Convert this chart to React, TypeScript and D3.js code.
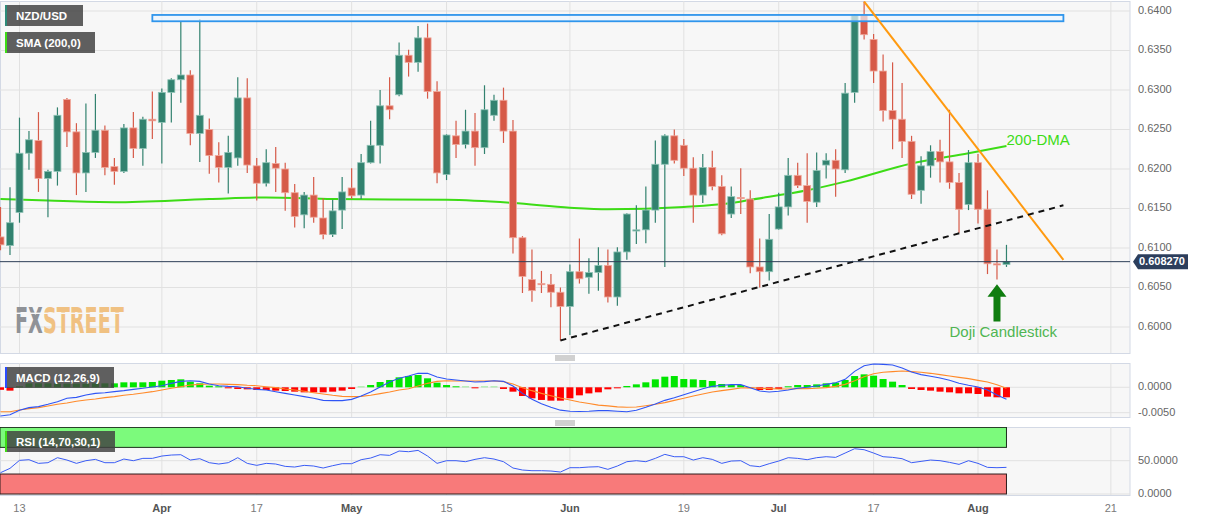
import { useLayoutEffect, useRef, useState } from 'react'
import * as d3 from 'd3'

// NZD/USD daily candles, one value per trading day starting 9 Mar 2023.
const START = '2023-03-09'

const OPEN = [
  0.6114, 0.6103, 0.6145, 0.622, 0.6236, 0.6188, 0.6197, 0.6288, 0.6247, 0.6195,
  0.6221, 0.6249, 0.6203, 0.6197, 0.6252, 0.6226, 0.6263, 0.6259, 0.6297, 0.6313,
  0.6319, 0.6245, 0.625, 0.6217, 0.6202, 0.6214, 0.629, 0.6204, 0.6182, 0.6207,
  0.62, 0.617, 0.6142, 0.6167, 0.6138, 0.6117, 0.6148, 0.6176, 0.6167, 0.6208,
  0.623, 0.628, 0.6294, 0.6344, 0.6335, 0.6366, 0.6298, 0.6193, 0.6242, 0.6231,
  0.6248, 0.6227, 0.6268, 0.6287, 0.6248, 0.6113, 0.606, 0.6055, 0.6054, 0.6044,
  0.6026, 0.607, 0.6063, 0.6069, 0.6078, 0.6038, 0.6095, 0.6122, 0.6123, 0.6148,
  0.6206, 0.6242, 0.623, 0.6201, 0.6167, 0.6202, 0.6178, 0.6143, 0.6164, 0.6162,
  0.6076, 0.607, 0.6124, 0.6152, 0.6192, 0.6179, 0.6158, 0.6205, 0.6211, 0.6199,
  0.6297, 0.6395, 0.6364, 0.6324, 0.6274, 0.6263, 0.6235, 0.6173, 0.6204, 0.6222,
  0.6209, 0.6183, 0.6155, 0.6208, 0.6149, 0.608, 0.6079,
]
const HIGH = [
  0.6152, 0.6177, 0.6265, 0.6248, 0.6272, 0.6199, 0.6278, 0.629, 0.6258, 0.6283,
  0.6295, 0.6255, 0.6214, 0.6257, 0.6272, 0.6266, 0.6298, 0.6302, 0.6315, 0.6387,
  0.6325, 0.639, 0.6264, 0.6234, 0.6242, 0.6316, 0.6315, 0.6214, 0.6225, 0.6228,
  0.6208, 0.6181, 0.6171, 0.619, 0.6163, 0.6161, 0.619, 0.6201, 0.6219, 0.6261,
  0.63, 0.6316, 0.636, 0.6351, 0.6381, 0.6384, 0.6311, 0.6244, 0.6261, 0.6275,
  0.6271, 0.6306, 0.6294, 0.6303, 0.6262, 0.6115, 0.6098, 0.6071, 0.6067, 0.605,
  0.6079, 0.6112, 0.6087, 0.6101, 0.6098, 0.6101, 0.6144, 0.6154, 0.6178, 0.6236,
  0.6244, 0.625, 0.6238, 0.6215, 0.6219, 0.6223, 0.6192, 0.6178, 0.6201, 0.6173,
  0.6112, 0.6143, 0.617, 0.6214, 0.6208, 0.622, 0.6221, 0.622, 0.6225, 0.6309,
  0.6396, 0.6412, 0.6371, 0.6345, 0.6335, 0.6309, 0.6242, 0.6216, 0.623, 0.6237,
  0.6275, 0.6195, 0.6224, 0.6219, 0.6173, 0.6098, 0.6104,
]
const LOW = [
  0.6097, 0.6091, 0.6132, 0.6199, 0.6171, 0.6139, 0.6179, 0.6228, 0.6167, 0.6171,
  0.6214, 0.6192, 0.618, 0.6195, 0.6214, 0.6204, 0.6238, 0.6207, 0.6259, 0.6284,
  0.623, 0.6209, 0.6194, 0.6183, 0.6169, 0.6204, 0.6195, 0.616, 0.6178, 0.6171,
  0.6147, 0.6126, 0.6125, 0.6132, 0.6111, 0.6114, 0.6124, 0.6162, 0.6162, 0.6207,
  0.6207, 0.6263, 0.6292, 0.6317, 0.6323, 0.6289, 0.6182, 0.6186, 0.6214, 0.6226,
  0.6204, 0.6219, 0.6261, 0.6233, 0.6093, 0.6043, 0.6032, 0.6043, 0.6025, 0.5983,
  0.599, 0.6055, 0.6042, 0.6046, 0.6031, 0.6027, 0.6085, 0.6105, 0.6106, 0.6132,
  0.6076, 0.6207, 0.6191, 0.6132, 0.6157, 0.6173, 0.6116, 0.6138, 0.6143, 0.6068,
  0.605, 0.6059, 0.6123, 0.6141, 0.6176, 0.6132, 0.6152, 0.6188, 0.6165, 0.6195,
  0.6284, 0.6364, 0.6309, 0.626, 0.6225, 0.6214, 0.6162, 0.6156, 0.6189, 0.6183,
  0.6175, 0.6119, 0.6148, 0.6131, 0.6067, 0.606, 0.6076,
]
const CLOSE = [
  0.6104, 0.6132, 0.622, 0.6237, 0.6188, 0.6197, 0.6268, 0.6247, 0.6195, 0.6221,
  0.6249, 0.6202, 0.6197, 0.6252, 0.6226, 0.6263, 0.6261, 0.6297, 0.6313, 0.6319,
  0.6245, 0.6268, 0.6217, 0.6202, 0.6221, 0.629, 0.6205, 0.6182, 0.6208, 0.6201,
  0.617, 0.614, 0.6167, 0.6139, 0.6117, 0.6147, 0.6171, 0.6166, 0.6208, 0.623,
  0.628, 0.6275, 0.6344, 0.6335, 0.6366, 0.6298, 0.6195, 0.6243, 0.6231, 0.6248,
  0.6227, 0.6275, 0.6287, 0.6248, 0.6113, 0.6064, 0.6046, 0.6054, 0.6044, 0.6026,
  0.607, 0.6061, 0.6069, 0.6078, 0.6038, 0.6095, 0.6143, 0.6123, 0.6148, 0.6206,
  0.6242, 0.6211, 0.6201, 0.6167, 0.6202, 0.6178, 0.6118, 0.6165, 0.6163, 0.6076,
  0.607, 0.6111, 0.6152, 0.6192, 0.6179, 0.6159, 0.6198, 0.6211, 0.62, 0.6296,
  0.6395, 0.637, 0.6324, 0.6274, 0.6263, 0.6235, 0.6168, 0.6204, 0.6222, 0.6209,
  0.6183, 0.6149, 0.6208, 0.6149, 0.608, 0.6079, 0.6083,
]

// 200-day SMA, read at a few dates
const SMA_DATES = [
  '2023-03-09', '2023-03-16', '2023-03-27', '2023-04-10', '2023-04-18', '2023-04-27',
  '2023-05-15', '2023-05-24', '2023-06-01', '2023-06-07', '2023-06-19', '2023-06-26',
  '2023-06-28', '2023-07-06', '2023-07-12', '2023-07-21', '2023-07-31', '2023-08-04',
]
const SMA_VALUES = [
  0.6162, 0.616, 0.6158, 0.6162, 0.6164, 0.6162, 0.6161, 0.6157, 0.6151, 0.6149,
  0.6152, 0.6157, 0.6161, 0.6173, 0.6184, 0.6207, 0.622, 0.6229,
]

// MACD (12,26,9)
const MACD = [
  -0.00565, -0.00539, -0.00453, -0.004, -0.0038, -0.00335, -0.00283, -0.00217, -0.00198, -0.00152,
  -0.0012, -0.00106, -0.00086, -0.00066, -0.0004, -0.0002, 0.00006, 0.00032, 0.00078, 0.00117,
  0.0013, 0.00117, 0.00065, 0.00032, 0.00019, 0.00012, -0.0002, -0.0004, -0.00053, -0.00086,
  -0.0012, -0.00152, -0.00184, -0.00217, -0.00257, -0.00263, -0.00263, -0.00237, -0.00171, -0.00093,
  0.00006, 0.00104, 0.00177, 0.00222, 0.00275, 0.00275, 0.00203, 0.00163, 0.00144, 0.00124,
  0.00104, 0.00111, 0.0013, 0.00117, 0.00026, -0.0012, -0.00237, -0.00322, -0.00394, -0.0045,
  -0.0047, -0.00475, -0.0047, -0.0046, -0.0046, -0.0047, -0.0048, -0.00453, -0.00394, -0.00329,
  -0.00257, -0.00204, -0.00145, -0.00086, -0.00027, 0.00019, 0.00039, 0.00052, 0.00052, -0.00007,
  -0.00073, -0.00093, -0.00079, -0.00053, -0.0002, 0, 0.00026, 0.00058, 0.00091, 0.00157,
  0.00314, 0.00426, 0.00459, 0.00452, 0.00439, 0.0038, 0.00301, 0.00249, 0.00216, 0.00183,
  0.00137, 0.00078, 0.00039, 0.00006, -0.00053, -0.00152, -0.00237,
]
const SIGNAL = [
  -0.0048, -0.0048, -0.00447, -0.0042, -0.004, -0.00368, -0.00335, -0.00309, -0.00276, -0.0025,
  -0.0023, -0.00204, -0.00184, -0.00158, -0.00138, -0.00112, -0.00086, -0.00053, -0.0002, 0.00012,
  0.00045, 0.00058, 0.00065, 0.00065, 0.00058, 0.00052, 0.00039, 0.00032, 0.00012, -0.00007,
  -0.00033, -0.00053, -0.00079, -0.00106, -0.00132, -0.00158, -0.00178, -0.00184, -0.00178, -0.00158,
  -0.00125, -0.00093, -0.00053, -0.00027, 0.00026, 0.00078, 0.00117, 0.0013, 0.00124, 0.00124,
  0.00124, 0.00124, 0.00124, 0.00111, 0.00065, -0.00007, -0.00066, -0.00119, -0.00165, -0.0021,
  -0.0025, -0.0029, -0.0032, -0.0035, -0.00365, -0.00385, -0.00394, -0.00388, -0.00362, -0.00335,
  -0.00302, -0.00257, -0.00217, -0.00171, -0.00132, -0.00093, -0.00066, -0.0004, -0.00014, -0.00007,
  -0.0002, -0.00027, -0.00033, -0.00033, -0.00027, -0.00027, -0.0002, -0.00007, 0.00019, 0.00058,
  0.0013, 0.00209, 0.00268, 0.00295, 0.00308, 0.00321, 0.00308, 0.00295, 0.00275, 0.00249,
  0.00222, 0.00196, 0.0017, 0.00137, 0.00104, 0.00052, -0.0002,
]
const HIST = [
  -0.0005, -0.00066, 0.0001, 0.00078, 0.00078, 0.00078, 0.00072, 0.00072, 0.00072, 0.00072,
  0.00078, 0.00078, 0.00078, 0.00098, 0.00098, 0.00098, 0.00104, 0.0013, 0.00144, 0.00157,
  0.00111, 0.00078, 0.00032, 0.00012, -0.00014, -0.00033, -0.0004, -0.00053, -0.00053, -0.00066,
  -0.00073, -0.00086, -0.00099, -0.00099, -0.00099, -0.00086, -0.00066, -0.00033, 0.00005, 0.00045,
  0.00104, 0.00144, 0.00196, 0.00222, 0.00242, 0.00177, 0.00091, 0.00045, 0.00012, 0.00004,
  -0.0002, 0.00006, 0.00006, -0.00033, -0.00086, -0.00171, -0.00217, -0.00249, -0.00263, -0.00263,
  -0.00217, -0.00158, -0.0012, -0.00099, -0.0004, -0.0002, 0.00026, 0.00058, 0.00098, 0.00157,
  0.00209, 0.00222, 0.00163, 0.00157, 0.00144, 0.00124, 0.00065, 0.00045, 0.00045, -0.00005,
  -0.00053, -0.00053, -0.00033, 0.00012, 0.00045, 0.00045, 0.00058, 0.00078, 0.00091, 0.00144,
  0.00222, 0.00255, 0.00229, 0.00163, 0.00111, 0.00045, -0.00033, -0.00053, -0.00066, -0.00086,
  -0.00099, -0.00119, -0.00119, -0.00132, -0.00184, -0.00197, -0.00197,
]

// RSI (14)
const RSI = [
  32, 38.5, 50.5, 51.5, 46, 47, 54.5, 51, 46, 50,
  52, 47, 47, 52.5, 50, 53.5, 53.5, 57, 58.5, 59,
  51, 53, 47, 45, 47, 54.5, 46, 43, 46, 45,
  41.5, 40.5, 43, 42, 39, 42.5, 45.5, 45.5, 51.5, 54,
  59, 58, 64.5, 63.5, 65.5, 57, 46, 50, 50, 48.5,
  52, 54.5, 52.5, 48.5, 39, 36, 35, 35, 34.5, 33,
  39.5, 39.5, 40.5, 41, 37, 42, 48.5, 50, 48.5, 53.5,
  59.5, 56, 56, 51, 54.5, 52, 46, 49.5, 50, 42.5,
  41, 45.5, 49.5, 54.5, 53.5, 51.5, 54.5, 56, 55, 61.5,
  68, 66.5, 61.5, 56, 55, 53, 47, 49, 51, 50,
  47.5, 44.5, 50, 46, 40, 39.5, 40,
]

const PRICE_TICKS = [0.6, 0.605, 0.61, 0.615, 0.62, 0.625, 0.63, 0.635, 0.64]
const MACD_TICKS = [0, -0.005]
const RSI_TICKS = [50, 0]
const X_TICKS = [
  { date: '2023-03-13', label: '13', month: false },
  { date: '2023-04-03', label: 'Apr', month: true },
  { date: '2023-04-17', label: '17', month: false },
  { date: '2023-05-01', label: 'May', month: true },
  { date: '2023-05-15', label: '15', month: false },
  { date: '2023-06-01', label: 'Jun', month: true },
  { date: '2023-06-19', label: '19', month: false },
  { date: '2023-07-03', label: 'Jul', month: true },
  { date: '2023-07-17', label: '17', month: false },
  { date: '2023-08-01', label: 'Aug', month: true },
  { date: '2023-08-21', label: '21', month: false },
]
const LAST_PRICE = 0.60827

// drawn studies
const RESIST_BOX = { from: '2023-03-31', to: '2023-08-14', top: 0.6395, bottom: 0.6387 }
const FALLING_LINE = { from: '2023-07-14', p0: 0.6412, to: '2023-08-14', p1: 0.6085 }
const RISING_LINE = { from: '2023-05-31', p0: 0.5983, to: '2023-08-14', p1: 0.6154 }
const DOJI_ARROW = { date: '2023-08-03', tip: 0.6054, tail: 0.6007 }
const DOJI_TEXT = { date: '2023-07-27', price: 0.5987, text: 'Doji Candlestick' }
const DMA_TEXT = { date: '2023-08-04', price: 0.623, text: '200-DMA' }

const W = 1207
const H = 521
const PR = 1130
const MAIN = { top: 1, bottom: 353 }
const MP = { top: 363, bottom: 417 }
const RP = { top: 427, bottom: 495 }
const FONT = "'Liberation Sans', Arial, sans-serif"
const UP = '#32826f'
const DOWN = '#d65a48'

function Tag({ y, w, text, bar }: { y: number; w: number; text: string; bar: string }) {
  return (
    <g>
      <rect x={5} y={y} width={w} height={21} fill="rgba(66,66,66,0.84)" />
      <rect x={5} y={y} width={2} height={21} fill={bar} />
      <text x={16} y={y + 15} fill="#fff" fontSize={11.5} fontWeight={700} fontFamily={FONT}>
        {text}
      </text>
    </g>
  )
}

function Grip({ y }: { y: number }) {
  return (
    <g stroke="#8c8c8c" strokeWidth={0.8}>
      {[0, 2, 4].map((d) => (
        <line key={d} x1={555} x2={575} y1={y + d} y2={y + d} />
      ))}
    </g>
  )
}

// watermark, squeezed horizontally to the logo's width
function Watermark() {
  const ref = useRef<SVGTextElement>(null)
  const [sx, setSx] = useState(0.6)
  useLayoutEffect(() => {
    const w = ref.current?.getComputedTextLength()
    if (w) setSx(109 / w)
  }, [])
  return (
    <g>
      <g transform={`translate(15,333) scale(${sx},1)`}>
        <text
          ref={ref}
          x={0}
          y={0}
          fontFamily="'DejaVu Sans Condensed', 'Liberation Sans Narrow', sans-serif"
          fontWeight={700}
          fontSize={35}
        >
          <tspan fill="#8f9297">FX</tspan>
          <tspan fill="#f0c182">STREET</tspan>
        </text>
      </g>
      <rect x={14} y={312.6} width={112} height={1.4} fill="#f7f7f7" />
    </g>
  )
}

export default function App() {
  const parse = d3.timeParse('%Y-%m-%d')
  const fmt = d3.timeFormat('%Y-%m-%d')
  const days = d3
    .timeDay.range(parse(START)!, parse('2023-09-01')!)
    .filter((d) => d.getDay() !== 0 && d.getDay() !== 6)
  const pos = new Map(days.map((d, i) => [fmt(d), i]))
  const at = (s: string) => pos.get(s) as number

  const x = d3.scaleLinear().domain([0, 103]).range([0.5, 978])
  const y = d3.scaleLinear().domain([0.6, 0.64]).range([327, 11])
  const ym = d3.scaleLinear().domain([-0.005, 0]).range([412.7, 387.3])
  const yr = d3.scaleLinear().domain([0, 100]).range([494, 427.4])

  const smaLine = d3
    .line<[number, number]>()
    .x((d) => x(d[0]))
    .y((d) => y(d[1]))
    .curve(d3.curveMonotoneX)
  const smaPath = smaLine(SMA_DATES.map((s, i) => [at(s), SMA_VALUES[i]]))

  const macdLine = d3.line<number>().x((_, i) => x(i)).y((v) => ym(v))
  const rsiLine = d3.line<number>().x((_, i) => x(i)).y((v) => yr(v))

  const lastX = x(OPEN.length - 1)
  const bw = 7

  const ax = x(at(DOJI_ARROW.date))
  const aTip = y(DOJI_ARROW.tip)
  const aTail = y(DOJI_ARROW.tail)
  const arrow = `M${ax},${aTip} L${ax + 9.5},${aTip + 12.5} L${ax + 3.5},${aTip + 12.5} L${ax + 3.5},${aTail} L${ax - 3.5},${aTail} L${ax - 3.5},${aTip + 12.5} L${ax - 9.5},${aTip + 12.5} Z`

  const ly = y(LAST_PRICE)

  const vGrid = (top: number, bottom: number) =>
    X_TICKS.map((t) => (
      <line key={t.date} x1={x(at(t.date))} x2={x(at(t.date))} y1={top} y2={bottom} stroke="#e1e1e1" />
    ))

  return (
    <div style={{ position: 'absolute', left: 0, top: 0 }}>
      <svg width={W} height={H} viewBox={`0 0 ${W} ${H}`} style={{ display: 'block', background: '#fff' }}>
        <defs>
          <clipPath id="clipMain">
            <rect x={0} y={MAIN.top} width={PR} height={MAIN.bottom - MAIN.top} />
          </clipPath>
          <clipPath id="clipMacd">
            <rect x={0} y={MP.top} width={PR} height={MP.bottom - MP.top} />
          </clipPath>
          <clipPath id="clipRsi">
            <rect x={0} y={RP.top} width={PR} height={RP.bottom - RP.top} />
          </clipPath>
        </defs>

        {/* panels */}
        <rect x={0.5} y={MAIN.top + 0.5} width={PR - 0.5} height={MAIN.bottom - MAIN.top} fill="#f7f7f7" stroke="#d3d9e5" />
        <rect x={0.5} y={MP.top + 0.5} width={PR - 0.5} height={MP.bottom - MP.top} fill="#f7f7f7" stroke="#d3d9e5" />
        <rect x={0.5} y={RP.top + 0.5} width={PR - 0.5} height={RP.bottom - RP.top} fill="#f7f7f7" stroke="#d3d9e5" />

        {/* main panel */}
        <g clipPath="url(#clipMain)">
          {vGrid(MAIN.top, MAIN.bottom)}
          {PRICE_TICKS.map((p) => (
            <line key={p} x1={0} x2={PR} y1={y(p)} y2={y(p)} stroke="#e1e1e1" />
          ))}

          <Watermark />

          <path d={smaPath ?? ''} fill="none" stroke="#3ddc16" strokeWidth={2} />

          {OPEN.map((o, i) => {
            const c = CLOSE[i]
            const up = c >= o
            const col = up ? UP : DOWN
            const top = y(Math.max(o, c))
            const h = Math.max(1.2, y(Math.min(o, c)) - top)
            const cx = x(i)
            return (
              <g key={i}>
                <line x1={cx} x2={cx} y1={y(HIGH[i])} y2={y(LOW[i])} stroke={col} strokeWidth={1.2} />
                <rect
                  x={cx - bw / 2}
                  y={top}
                  width={bw}
                  height={h}
                  fill={col}
                  stroke={up ? '#8fc3b6' : '#f0a89c'}
                  strokeWidth={0.8}
                />
              </g>
            )
          })}

          <rect
            x={x(at(RESIST_BOX.from))}
            y={y(RESIST_BOX.top)}
            width={x(at(RESIST_BOX.to)) - x(at(RESIST_BOX.from))}
            height={y(RESIST_BOX.bottom) - y(RESIST_BOX.top)}
            fill="rgba(235,245,255,0.7)"
            stroke="#2f95ec"
            strokeWidth={1.8}
          />
          <line
            x1={x(at(FALLING_LINE.from))}
            y1={y(FALLING_LINE.p0)}
            x2={x(at(FALLING_LINE.to))}
            y2={y(FALLING_LINE.p1)}
            stroke="#ff9a10"
            strokeWidth={2}
          />
          <line
            x1={x(at(RISING_LINE.from))}
            y1={y(RISING_LINE.p0)}
            x2={x(at(RISING_LINE.to))}
            y2={y(RISING_LINE.p1)}
            stroke="#111"
            strokeWidth={2}
            strokeDasharray="6 5"
          />

          <line x1={0} x2={PR} y1={ly} y2={ly} stroke="#2c3e57" strokeWidth={1} />

          <path d={arrow} fill="#0f7d0f" />
          <text x={x(at(DOJI_TEXT.date))} y={y(DOJI_TEXT.price)} fill="#4fb552" fontSize={15} fontFamily={FONT}>
            {DOJI_TEXT.text}
          </text>
          <text x={x(at(DMA_TEXT.date))} y={y(DMA_TEXT.price)} fill="#3ddc16" fontSize={15} fontFamily={FONT}>
            {DMA_TEXT.text}
          </text>
        </g>

        {/* MACD panel */}
        <g clipPath="url(#clipMacd)">
          {vGrid(MP.top, MP.bottom)}
          {MACD_TICKS.map((v) => (
            <line key={v} x1={0} x2={PR} y1={ym(v)} y2={ym(v)} stroke="#e1e1e1" />
          ))}
          {HIST.map((v, i) => {
            const y0 = ym(0)
            const y1 = ym(v)
            const h = Math.max(1, Math.abs(y1 - y0))
            return (
              <rect
                key={i}
                x={x(i) - 3.5}
                y={v >= 0 ? y0 - h : y0}
                width={7}
                height={h}
                fill={v >= 0 ? '#00e600' : '#ff0000'}
                opacity={Math.abs(v) < 0.00008 ? 0.35 : 1}
              />
            )
          })}
          <path d={macdLine(SIGNAL) ?? ''} fill="none" stroke="#ff8a2a" strokeWidth={1.1} />
          <path d={macdLine(MACD) ?? ''} fill="none" stroke="#2f55f5" strokeWidth={1.1} />
        </g>

        {/* RSI panel */}
        <g clipPath="url(#clipRsi)">
          {vGrid(RP.top, RP.bottom)}
          {RSI_TICKS.map((v) => (
            <line key={v} x1={0} x2={PR} y1={yr(v)} y2={yr(v)} stroke="#e1e1e1" />
          ))}
          <rect x={0} y={yr(100)} width={lastX} height={yr(70) - yr(100)} fill="#7cfa7c" stroke="#1c2e1c" strokeWidth={1} />
          <rect x={0} y={yr(30)} width={lastX} height={yr(0) - yr(30)} fill="#f87a7a" stroke="#2e1c1c" strokeWidth={1} />
          <path d={rsiLine(RSI) ?? ''} fill="none" stroke="#3a5cf5" strokeWidth={1} />
        </g>

        <Grip y={356} />
        <Grip y={421} />

        {/* legends */}
        <Tag y={5} w={78} text="NZD/USD" bar="#2d8a78" />
        <Tag y={32} w={90} text="SMA (200,0)" bar="#3ddc16" />
        <Tag y={367} w={109} text="MACD (12,26,9)" bar="#2a4cff" />
        <Tag y={431} w={110} text="RSI (14,70,30,1)" bar="#3ddc16" />

        {/* right axis */}
        <g fontFamily={FONT} fontSize={11} fill="#666">
          {PRICE_TICKS.map((p) => (
            <text key={p} x={1138} y={y(p)} dominantBaseline="middle">
              {p.toFixed(4)}
            </text>
          ))}
          {MACD_TICKS.map((v) => (
            <text key={v} x={1138} y={ym(v)} dominantBaseline="middle">
              {v.toFixed(4)}
            </text>
          ))}
          {RSI_TICKS.map((v) => (
            <text key={v} x={1138} y={yr(v)} dominantBaseline="middle">
              {v.toFixed(4)}
            </text>
          ))}
        </g>

        <path d={`M1133,${ly} L1138,${ly - 7.5} H1188 V${ly + 7.5} H1138 Z`} fill="#2c3e5c" />
        <text x={1139} y={ly} dominantBaseline="middle" fill="#fff" fontFamily={FONT} fontSize={11} fontWeight={700}>
          {LAST_PRICE.toFixed(6)}
        </text>

        {/* x axis */}
        <g fontFamily={FONT} fontSize={11} textAnchor="middle">
          {X_TICKS.map((t) => (
            <text
              key={t.date}
              x={x(at(t.date))}
              y={512}
              fill={t.month ? '#555' : '#7a7a7a'}
              fontWeight={t.month ? 700 : 400}
            >
              {t.label}
            </text>
          ))}
        </g>
      </svg>
    </div>
  )
}
